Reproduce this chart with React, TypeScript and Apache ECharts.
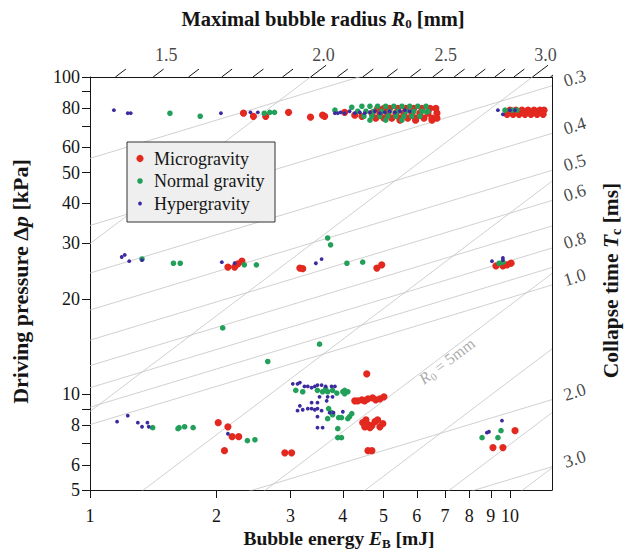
import React, { useEffect, useRef } from "react";
import * as echarts from "echarts";

// ---------------- data: [bubble energy E_B (mJ), driving pressure Δp (kPa)] ----------------
const MICROGRAVITY: number[][] = [
  [2.32, 76.9], [2.45, 75.2], [2.62, 75.2], [2.97, 77.4], [3.35, 74.7], [3.58, 75.8], [3.62, 75.2], [4.04, 77.4],
  [4.27, 75.8], [4.44, 75.2],
  [4.84, 79.7], [5.01, 79.7], [5.17, 79.7], [5.41, 79.7], [5.65, 79.7], [5.9, 79.7], [6.17, 79.7], [6.45, 79.7], [6.66, 79.7],
  [4.69, 76.9], [4.9, 76.9], [5.12, 76.9], [5.35, 76.9], [5.59, 76.9], [5.84, 76.9], [6.1, 76.9], [6.38, 76.9], [6.7, 76.9],
  [4.79, 74.2], [5.01, 74.2], [5.23, 74.2], [5.47, 74.2], [5.71, 74.2], [5.96, 74.2], [6.24, 74.2], [6.52, 74.2], [6.7, 74.2],
  [5.47, 73.1], [5.96, 73.1], [6.52, 73.1],
  [10.0, 78.6], [10.33, 78.6], [10.68, 78.6], [11.04, 78.6], [11.41, 78.6], [11.79, 78.6], [12.05, 78.6],
  [9.84, 76.3], [10.17, 76.3], [10.51, 76.3], [10.86, 76.3], [11.22, 76.3], [11.6, 76.3], [11.99, 76.3], [9.94, 77.4],
  [2.13, 25.2], [2.21, 25.2], [2.25, 25.8], [2.3, 26.3], [3.16, 25.0], [3.21, 24.9], [4.82, 25.0], [4.95, 25.6],
  [9.26, 25.4], [9.62, 25.4], [9.84, 25.6], [10.06, 25.9],
  [4.56, 11.6],
  [4.27, 9.55], [4.34, 9.55], [4.44, 9.62], [4.51, 9.55], [4.59, 9.69], [4.71, 9.76], [4.79, 9.62], [4.9, 9.69], [5.01, 9.83],
  [4.46, 8.15], [4.54, 8.32], [4.59, 8.03], [4.69, 7.97], [4.77, 8.21], [4.84, 8.32], [4.9, 7.91], [4.51, 7.91], [4.64, 7.86], [4.98, 8.09],
  [4.59, 6.65], [4.69, 6.65],
  [2.91, 6.55], [3.02, 6.55],
  [2.02, 8.15], [2.13, 7.91], [2.18, 7.36], [2.26, 7.36], [2.09, 6.65],
  [10.28, 7.69], [9.11, 6.8], [9.62, 6.8],
];

const NORMAL_GRAVITY: number[][] = [
  [1.55, 76.9], [1.83, 75.2], [2.6, 76.9], [2.68, 77.4], [2.75, 77.4], [3.83, 78.6], [4.2, 80.3],
  [4.44, 80.9], [4.64, 80.9], [4.84, 80.9], [5.06, 80.9], [5.29, 80.9], [5.53, 80.9], [5.77, 80.9], [6.03, 80.9], [6.31, 80.9],
  [4.34, 78.0], [4.54, 78.0], [4.74, 78.0], [4.95, 78.0], [5.17, 78.0], [5.41, 78.0], [5.65, 78.0], [5.9, 78.0], [6.17, 78.0], [6.38, 78.0],
  [4.49, 75.2], [4.69, 75.2], [4.9, 75.2], [5.12, 75.2], [5.35, 75.2], [5.59, 75.2], [5.84, 75.2], [6.1, 75.2],
  [4.64, 73.1], [5.06, 73.1], [5.53, 73.1], [6.34, 77.6],
  [9.73, 78.6], [10.11, 78.6], [10.39, 78.6],
  [1.33, 26.7], [1.58, 25.9], [1.64, 25.9], [2.33, 25.6], [2.49, 25.6], [3.68, 31.1], [3.74, 29.6], [4.09, 25.9], [4.46, 26.1],
  [9.42, 25.9], [9.62, 26.1],
  [2.07, 16.2], [2.65, 12.7], [3.52, 14.4],
  [3.09, 10.3], [3.21, 10.2], [3.48, 10.3], [3.58, 10.2], [3.64, 10.4], [3.68, 10.2], [3.78, 10.3], [3.87, 10.1], [4.0, 10.2],
  [4.04, 10.3], [4.11, 10.2], [4.04, 10.05],
  [3.7, 9.02], [3.76, 8.76], [3.78, 8.63], [3.68, 8.39], [3.91, 8.45], [3.97, 8.45], [4.11, 8.39], [4.15, 8.51], [4.2, 8.7],
  [3.89, 7.8], [3.89, 7.31], [3.97, 7.31],
  [1.41, 7.86], [1.62, 7.8], [1.63, 7.86], [1.68, 7.91], [1.76, 7.86], [2.37, 7.15], [2.47, 7.2],
  [9.52, 7.69], [8.58, 7.31], [9.36, 7.31],
];

const HYPERGRAVITY: number[][] = [
  [1.14, 78.6], [1.23, 76.9], [1.25, 76.9], [2.05, 76.9], [2.41, 77.4], [2.51, 77.4], [3.83, 76.9], [3.89, 76.9],
  [3.95, 77.4], [4.04, 76.9], [4.15, 78.0], [4.27, 76.9], [4.39, 77.4], [4.51, 76.9], [4.64, 77.4], [4.77, 78.0], [4.9, 76.9],
  [5.03, 77.4], [5.17, 78.0], [5.32, 77.4], [5.47, 78.0], [5.62, 78.6], [5.77, 78.0],
  [9.36, 78.6], [9.62, 76.3], [10.0, 78.6], [10.28, 78.6],
  [1.19, 27.1], [1.21, 27.5], [1.24, 26.3], [1.33, 26.5], [2.06, 26.1], [2.21, 25.9], [3.45, 25.9], [3.56, 26.7],
  [9.06, 26.3], [9.62, 26.5], [9.62, 26.9],
  [3.04, 10.8], [3.12, 10.8], [3.16, 10.9], [3.24, 10.6], [3.3, 10.6], [3.37, 10.5], [3.43, 10.6], [3.48, 10.7], [3.56, 10.7],
  [3.64, 10.6], [3.76, 10.6], [3.83, 10.6],
  [3.52, 9.83], [3.68, 9.83], [3.78, 9.83], [3.37, 9.42], [3.48, 9.42], [3.66, 9.55],
  [3.16, 9.21], [3.12, 8.89], [3.21, 8.95], [3.3, 9.02], [3.37, 9.02], [3.43, 8.95], [3.48, 9.02], [3.56, 8.89],
  [3.72, 8.76], [3.8, 8.76], [4.0, 8.82], [3.48, 8.51], [3.48, 7.86], [3.58, 7.86],
  [1.16, 8.21], [1.23, 8.57], [1.3, 8.15], [1.33, 7.91], [1.37, 8.15], [1.38, 7.91], [2.13, 7.52],
  [9.57, 8.27], [8.81, 7.58], [8.91, 7.63],
];

// ---------------- axes ----------------
const E_MIN = 1;
const E_MAX = 12.59;
const P_MIN = 5;
const P_MAX = 100;
const X_TICKS = [1, 2, 3, 4, 5, 6, 7, 8, 9, 10];
const X_LABELS = [1, 2, 3, 4, 5, 6, 7, 8, 9, 10];
const Y_TICKS = [5, 6, 7, 8, 9, 10, 20, 30, 40, 50, 60, 70, 80, 90, 100];
const Y_LABELS = [5, 6, 8, 10, 20, 30, 40, 50, 60, 80, 100];

// top axis: maximal bubble radius R0 (mm); right axis: collapse time Tc (ms)
const R0_TICKS = [1.4, 1.5, 1.6, 1.7, 1.8, 1.9, 2.0, 2.1, 2.2, 2.3, 2.4, 2.5, 2.6, 2.7, 2.8, 2.9, 3.0, 3.1];
const R0_LONG_TICKS = [2.0, 3.0];
const R0_LABELS = ["1.5", "2.0", "2.5", "3.0"];
const TC_TICKS = [0.3, 0.4, 0.5, 0.6, 0.7, 0.8, 0.9, 1.0, 2.0, 3.0];
const TC_LABELS = ["0.3", "0.4", "0.5", "0.6", "0.8", "1.0", "2.0", "3.0"];
// grey iso-lines
const R0_GUIDES = [2, 3, 4, 5, 6, 7, 8];
const TC_GUIDES = [0.2, 0.3, 0.4, 0.5, 0.6, 0.7, 0.8, 0.9, 1.0, 2.0, 3.0];
const R0_NOTE = { r0: 5, energy: 7.07 };

// physics: E = 4/3 π R0³ Δp ; Tc = 0.915 R0 sqrt(ρ/Δp)
const SPHERE = (4 / 3) * Math.PI;
const RAYLEIGH = 0.915;

const FONT = "Liberation Serif, Times New Roman, serif";
const INK = "#151515";
const RED = "#e3281f";
const GREEN = "#22a05a";
const BLUE = "#3b2b9e";
const GUIDE = "#c4c4c4";

const lg = Math.log10;
const xMin = lg(E_MIN);
const xMax = lg(E_MAX);
const yMin = lg(P_MIN);
const yMax = lg(P_MAX);

const r0Line = (r: number, lx: number) => lx + 3 - lg(SPHERE * r ** 3);
const tcLine = (t: number, lx: number) => 0.4 * (lx - lg(SPHERE * 1e-3 * (t / RAYLEIGH) ** 3));
const r0Top = (r: number) => yMax - 3 + lg(SPHERE * r ** 3);
const toLog = (arr: number[][]) => arr.map(([e, p]) => [lg(e), lg(p)]);

const titleRich = (size: number) => ({
  b: { fontFamily: FONT, fontWeight: "bold", fontSize: size, color: INK },
  bi: { fontFamily: FONT, fontWeight: "bold", fontStyle: "italic", fontSize: size, color: INK },
  s: {
    fontFamily: FONT, fontWeight: "bold", fontSize: Math.round(size * 0.65), color: INK,
    verticalAlign: "bottom", padding: [Math.round(size * 0.5), 0, 0, 0],
  },
});

function buildOption() {
  const series: any[] = [];

  R0_GUIDES.forEach((r) =>
    series.push({
      type: "line", silent: true, symbol: "none", clip: true, z: 1,
      lineStyle: { color: GUIDE, width: 0.8 },
      data: [[xMin, r0Line(r, xMin)], [xMax, r0Line(r, xMax)]],
    })
  );
  TC_GUIDES.forEach((t) =>
    series.push({
      type: "line", silent: true, symbol: "none", clip: true, z: 1,
      lineStyle: { color: GUIDE, width: 0.8 },
      data: [[xMin, tcLine(t, xMin)], [xMax, tcLine(t, xMax)]],
    })
  );

  // slanted ticks on top (R0) and right (Tc)
  R0_TICKS.forEach((r) => {
    const d = R0_LONG_TICKS.includes(r) ? 0.037 : 0.025;
    const x0 = r0Top(r);
    series.push({
      type: "line", silent: true, symbol: "none", clip: false, z: 2,
      lineStyle: { color: INK, width: 1 },
      data: [[x0, yMax], [x0 + d, yMax + d]],
    });
  });
  TC_TICKS.forEach((t) => {
    const d = 0.02;
    const y0 = tcLine(t, xMax);
    series.push({
      type: "line", silent: true, symbol: "none", clip: false, z: 2,
      lineStyle: { color: INK, width: 1 },
      data: [[xMax, y0], [xMax + d, y0 + 0.4 * d]],
    });
  });

  series.push({
    type: "scatter", silent: true, clip: false, symbolSize: 1, z: 2,
    itemStyle: { color: "rgba(0,0,0,0)" },
    label: {
      show: true, position: "top", distance: 13, formatter: "{b}",
      fontFamily: FONT, fontSize: 18, color: INK,
    },
    data: R0_LABELS.map((s) => ({ name: s, value: [r0Top(parseFloat(s)) + 0.031, yMax] })),
  });
  series.push({
    type: "scatter", silent: true, clip: false, symbolSize: 1, z: 2,
    itemStyle: { color: "rgba(0,0,0,0)" },
    label: {
      show: true, position: "right", distance: 3, rotate: 17, formatter: "{b}",
      fontFamily: FONT, fontSize: 18, color: INK,
    },
    data: TC_LABELS.map((s) => ({ name: s, value: [xMax + 0.02, tcLine(parseFloat(s), xMax) + 0.014] })),
  });

  // "R0 = 5mm" note along its iso-line
  series.push({
    type: "scatter", silent: true, clip: false, symbolSize: 1, z: 2,
    itemStyle: { color: "rgba(0,0,0,0)" },
    label: {
      show: true, position: "inside", rotate: 37, formatter: "{i|R}{s|0}{n| = 5mm}",
      rich: {
        i: { fontFamily: FONT, fontStyle: "italic", fontSize: 16, color: "#959595" },
        s: { fontFamily: FONT, fontSize: 11, color: "#959595", verticalAlign: "bottom", padding: [9, 0, 0, 0] },
        n: { fontFamily: FONT, fontSize: 16, color: "#959595" },
      },
    },
    data: [[lg(R0_NOTE.energy), r0Line(R0_NOTE.r0, lg(R0_NOTE.energy)) - 0.025]],
  });

  series.push({
    name: "Microgravity", type: "scatter", z: 3, symbolSize: 7.2,
    itemStyle: { color: RED, opacity: 1 }, data: toLog(MICROGRAVITY),
  });
  series.push({
    name: "Normal gravity", type: "scatter", z: 4, symbolSize: 5.6,
    itemStyle: { color: GREEN, opacity: 1 }, data: toLog(NORMAL_GRAVITY),
  });
  series.push({
    name: "Hypergravity", type: "scatter", z: 5, symbolSize: 3.8,
    itemStyle: { color: BLUE, opacity: 1 }, data: toLog(HYPERGRAVITY),
  });

  const axisLine = { show: true, onZero: false, lineStyle: { color: INK, width: 1 } };
  const tickLabel = { fontFamily: FONT, fontSize: 18, color: INK };

  const legendX = 127;
  const legendY = 142;
  const rows = [
    { label: "Microgravity", color: RED, r: 3.6 },
    { label: "Normal gravity", color: GREEN, r: 2.8 },
    { label: "Hypergravity", color: BLUE, r: 1.9 },
  ];
  const legendChildren: any[] = [
    {
      type: "rect", z: 100,
      shape: { x: legendX, y: legendY, width: 148, height: 80 },
      style: { fill: "#efefef", stroke: "#333", lineWidth: 1 },
    },
  ];
  rows.forEach((row, i) => {
    const cy = legendY + 16.5 + i * 22.5;
    legendChildren.push({
      type: "circle", z: 101, shape: { cx: legendX + 13, cy, r: row.r }, style: { fill: row.color },
    });
    legendChildren.push({
      type: "text", z: 101, x: legendX + 27, y: cy,
      style: { text: row.label, fontFamily: FONT, fontSize: 18, fill: INK, verticalAlign: "middle", align: "left" },
    });
  });

  return {
    animation: false,
    backgroundColor: "#ffffff",
    textStyle: { fontFamily: FONT },
    grid: { left: 90, right: 73, top: 77, bottom: 64, containLabel: false, outerBoundsMode: "none" },
    xAxis: [
      {
        type: "value", position: "bottom", min: xMin, max: xMax,
        axisLine, splitLine: { show: false },
        axisTick: { show: true, length: 8, lineStyle: { color: INK }, customValues: X_TICKS.map(lg) },
        axisLabel: {
          ...tickLabel, margin: 17, customValues: X_LABELS.map(lg),
          formatter: (v: number) => String(Math.round(10 ** v)),
        },
        name: "{b|Bubble energy }{bi|E}{s|B}{b| [mJ]}",
        nameLocation: "middle", nameGap: 37, nameMoveOverlap: false,
        nameTextStyle: { rich: titleRich(19.5), padding: [0, 0, 0, 36] },
      },
      {
        type: "value", position: "top", min: xMin, max: xMax,
        axisLine, axisTick: { show: false }, axisLabel: { show: false }, splitLine: { show: false },
        name: "{b|Maximal bubble radius }{bi|R}{s|0}{b| [mm]}",
        nameLocation: "middle", nameGap: 47, nameMoveOverlap: false,
        nameTextStyle: { rich: titleRich(20.5), padding: [0, 0, 0, 4] },
      },
    ],
    yAxis: [
      {
        type: "value", position: "left", min: yMin, max: yMax,
        axisLine, splitLine: { show: false },
        axisTick: { show: true, length: 8, lineStyle: { color: INK }, customValues: Y_TICKS.map(lg) },
        axisLabel: {
          ...tickLabel, margin: 10, customValues: Y_LABELS.map(lg),
          formatter: (v: number) => String(Math.round(10 ** v)),
        },
        name: "{b|Driving pressure Δ}{bi|p}{b| [kPa]}",
        nameLocation: "middle", nameGap: 59, nameRotate: 90, nameMoveOverlap: false,
        nameTextStyle: { rich: titleRich(22), padding: [0, 0, 0, 4] },
      },
      {
        type: "value", position: "right", min: yMin, max: yMax,
        axisLine, axisTick: { show: false }, axisLabel: { show: false }, splitLine: { show: false },
        name: "{b|Collapse time }{bi|T}{s|c}{b| [ms]}",
        nameLocation: "middle", nameGap: 46, nameRotate: 90, nameMoveOverlap: false,
        nameTextStyle: { rich: titleRich(21.5), padding: [0, 0, 0, 6] },
      },
    ],
    graphic: legendChildren,
    series,
  };
}

export default function App() {
  const ref = useRef<HTMLDivElement>(null);
  useEffect(() => {
    if (!ref.current) return;
    const chart = echarts.init(ref.current, null, { renderer: "svg" });
    chart.setOption(buildOption() as any);
    return () => chart.dispose();
  }, []);
  return (
    <div
      ref={ref}
      style={{ position: "fixed", left: 0, top: 0, width: 625, height: 554, background: "#fff" }}
    />
  );
}
